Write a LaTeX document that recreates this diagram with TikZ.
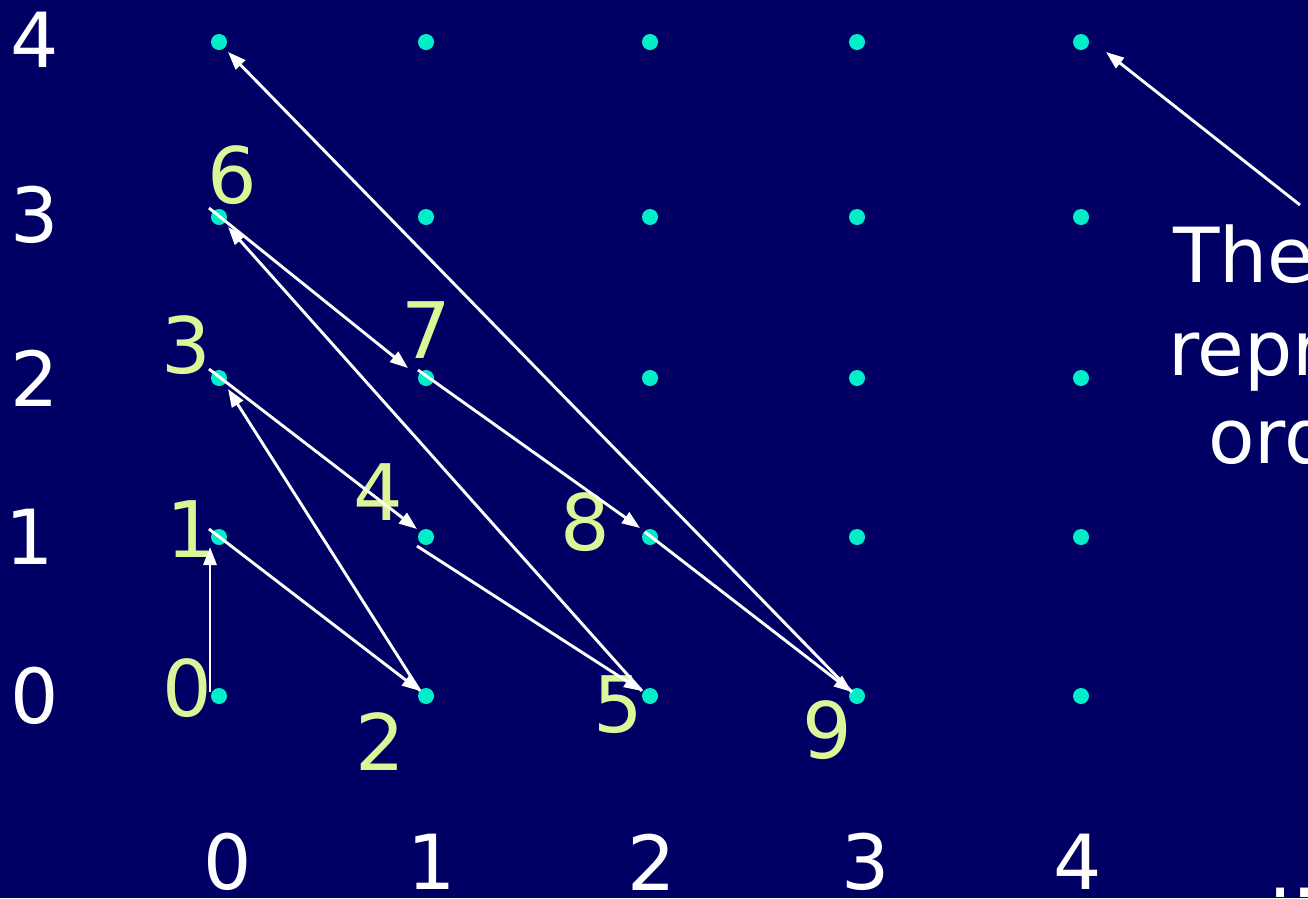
\documentclass[tikz,border=0pt]{standalone}
\usepackage{fontspec}
\setmainfont{DejaVu Sans}
\usetikzlibrary{calc,arrows.meta}
\definecolor{bg}{RGB}{0,0,100}
\definecolor{dotc}{RGB}{0,238,200}
\definecolor{lab}{RGB}{220,245,150}
\begin{document}
\begin{tikzpicture}[x=1pt,y=-1pt,
  dot/.style={circle,fill=dotc,inner sep=0pt,minimum size=16pt},
  lbl/.style={text=lab,font=\fontsize{78}{80}\selectfont,inner sep=0pt},
  axl/.style={text=white,font=\fontsize{76}{80}\selectfont,inner sep=0pt},
  side/.style={text=white,font=\fontsize{76}{80}\selectfont,inner sep=0pt,anchor=base west},
  arr/.style={draw=white,line width=2.9pt,-{Triangle[length=18pt,width=13pt]}}
]
\fill[bg] (0,0) rectangle (1308,898);
\useasboundingbox (0,0) rectangle (1308,898);
\clip (0,0) rectangle (1308,898);
% dots
\foreach \i/\x in {0/219,1/426,2/650,3/857,4/1081}
  \foreach \j/\y in {0/696,1/537,2/378,3/217,4/42}
    \node[dot] (d\i\j) at (\x,\y) {};
% axis labels
\node[axl] (y4) at (35,40) {4};
\node[axl] (y3) at (35,215) {3};
\node[axl] (y2) at (35,378) {2};
\node[axl] (y1) at (30,537) {1};
\node[axl] (y0) at (35,696) {0};
\node[axl] (x0) at (228,862) {0};
\node[axl] (x1) at (432,862) {1};
\node[axl] (x2) at (652,862) {2};
\node[axl] (x3) at (866,862) {3};
\node[axl] (x4) at (1078,862) {4};
\node[side] (dots) at (1268,897) {...};
% order labels
\node[lbl] (l0) at (187,688) {0};
\node[lbl] (l1) at (191,529) {1};
\node[lbl] (l2) at (380,742) {2};
\node[lbl] (l3) at (186,345) {3};
\node[lbl] (l4) at (378,492) {4};
\node[lbl] (l5) at (618,705) {5};
\node[lbl] (l6) at (232,175) {6};
\node[lbl] (l7) at (426,330) {7};
\node[lbl] (l8) at (585,522) {8};
\node[lbl] (l9) at (827,730) {9};
% side text
\node[side] (t1) at (1173,282) {The};
\node[side] (t2) at (1168,375) {repr};
\node[side] (t3) at (1208,463) {ord};
\coordinate (tip) at (1300,205);
% arrows
\draw[arr] ($(d00)+(-9,-4)$) -- ($(d01)+(-9,10)$);
\draw[arr] ($(d01)+(-10,-8)$) -- ($(d10)+(-6,-5)$);
\draw[arr] ($(d10)+(-6,-5)$) -- ($(d02)+(9,11)$);
\draw[arr] ($(d02)+(-10,-9)$) -- ($(d11)+(-9,-8)$);
\draw[arr] ($(d11)+(-9,9)$) -- ($(d20)+(-8,-5)$);
\draw[arr] ($(d20)+(-8,-5)$) -- ($(d03)+(9,10)$);
\draw[arr] ($(d03)+(-10,-9)$) -- ($(d12)+(-18,-10)$);
\draw[arr] ($(d12)+(-8,-8)$) -- ($(d21)+(-10,-9)$);
\draw[arr] ($(d21)+(-5,-5)$) -- ($(d30)+(-5,-4)$);
\draw[arr] ($(d30)+(-5,-4)$) -- ($(d04)+(9,10)$);
\draw[arr] (tip) -- ($(d44)+(25,10)$);
\end{tikzpicture}
\end{document}
